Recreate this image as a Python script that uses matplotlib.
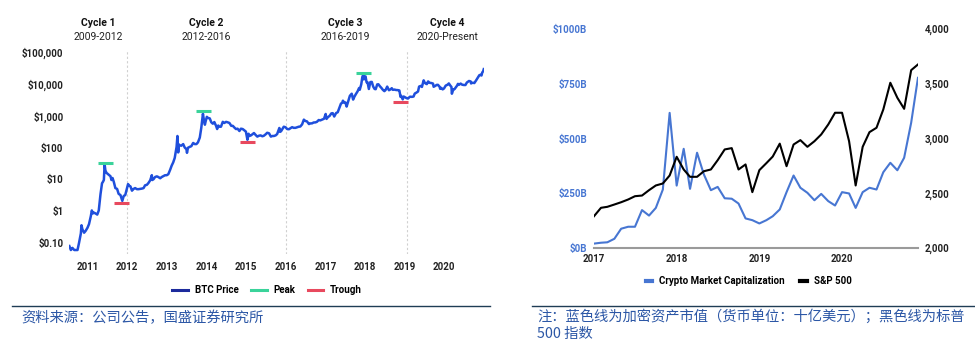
import pandas as pd
import matplotlib
matplotlib.use('Agg')
import matplotlib.pyplot as plt
import matplotlib.dates as mdates
from matplotlib.lines import Line2D
from matplotlib.ticker import FixedLocator, FuncFormatter

plt.rcParams['font.family'] = ['Roboto', 'DejaVu Sans']

# ---- left chart: BTC price cycles ----
btc_dates = [
    '2010-07-18', '2010-08-01', '2010-08-15', '2010-09-01', '2010-09-15', '2010-10-01', '2010-10-15',
    '2010-11-01', '2010-11-07', '2010-11-15', '2010-12-01', '2010-12-15',
    '2011-01-01', '2011-01-15', '2011-02-01', '2011-02-10', '2011-02-20', '2011-03-01', '2011-03-15',
    '2011-04-01', '2011-04-15', '2011-05-01', '2011-05-15', '2011-05-25', '2011-06-01', '2011-06-08',
    '2011-06-15', '2011-06-25', '2011-07-05', '2011-07-20', '2011-08-01', '2011-08-10', '2011-08-20',
    '2011-09-01', '2011-09-15', '2011-10-01', '2011-10-15', '2011-11-01', '2011-11-18', '2011-12-01',
    '2011-12-15',
    '2012-01-01', '2012-01-10', '2012-01-20', '2012-02-01', '2012-02-15', '2012-03-01', '2012-03-15',
    '2012-04-01', '2012-04-15', '2012-05-01', '2012-05-15', '2012-06-01', '2012-06-15', '2012-07-01',
    '2012-07-15', '2012-08-01', '2012-08-16', '2012-08-20', '2012-09-01', '2012-09-15', '2012-10-01',
    '2012-10-15', '2012-11-01', '2012-11-15', '2012-12-01', '2012-12-15',
    '2013-01-01', '2013-01-15', '2013-02-01', '2013-02-15', '2013-03-01', '2013-03-15', '2013-04-01',
    '2013-04-09', '2013-04-16', '2013-04-22', '2013-05-01', '2013-05-15', '2013-06-01', '2013-06-15',
    '2013-07-01', '2013-07-06', '2013-07-15', '2013-08-01', '2013-08-15', '2013-09-01', '2013-09-15',
    '2013-10-01', '2013-10-15', '2013-11-01', '2013-11-15', '2013-11-30', '2013-12-07', '2013-12-18',
    '2013-12-25',
    '2014-01-05', '2014-01-15', '2014-02-01', '2014-02-15', '2014-03-01', '2014-03-15', '2014-04-01',
    '2014-04-10', '2014-04-20', '2014-05-01', '2014-05-15', '2014-06-01', '2014-06-15', '2014-07-01',
    '2014-07-15', '2014-08-01', '2014-08-18', '2014-09-01', '2014-09-20', '2014-10-01', '2014-10-15',
    '2014-11-01', '2014-11-15', '2014-12-01', '2014-12-15', '2014-12-31',
    '2015-01-14', '2015-01-25', '2015-02-01', '2015-02-15', '2015-03-01', '2015-03-15', '2015-04-01',
    '2015-04-15', '2015-05-01', '2015-05-15', '2015-06-01', '2015-06-15', '2015-07-01', '2015-07-15',
    '2015-08-01', '2015-08-18', '2015-09-01', '2015-09-15', '2015-10-01', '2015-10-15', '2015-11-04',
    '2015-11-11', '2015-11-20', '2015-12-01', '2015-12-15',
    '2016-01-01', '2016-01-15', '2016-02-01', '2016-02-15', '2016-03-01', '2016-03-15', '2016-04-01',
    '2016-04-15', '2016-05-01', '2016-05-15', '2016-06-01', '2016-06-17', '2016-07-01', '2016-07-15',
    '2016-08-03', '2016-08-15', '2016-09-01', '2016-09-15', '2016-10-01', '2016-10-15', '2016-11-01',
    '2016-11-15', '2016-12-01', '2016-12-20',
    '2017-01-04', '2017-01-12', '2017-01-25', '2017-02-10', '2017-02-25', '2017-03-10', '2017-03-24',
    '2017-04-10', '2017-04-25', '2017-05-10', '2017-05-25', '2017-06-05', '2017-06-12', '2017-06-25',
    '2017-07-05', '2017-07-16', '2017-07-31', '2017-08-15', '2017-09-01', '2017-09-14', '2017-09-25',
    '2017-10-10', '2017-10-25', '2017-11-08', '2017-11-14', '2017-11-28', '2017-12-08', '2017-12-17',
    '2017-12-22', '2017-12-28',
    '2018-01-06', '2018-01-16', '2018-01-25', '2018-02-06', '2018-02-20', '2018-03-05', '2018-03-18',
    '2018-03-31', '2018-04-10', '2018-04-24', '2018-05-05', '2018-05-20', '2018-06-01', '2018-06-15',
    '2018-06-29', '2018-07-10', '2018-07-25', '2018-08-10', '2018-08-25', '2018-09-05', '2018-09-15',
    '2018-10-01', '2018-10-15', '2018-11-01', '2018-11-14', '2018-11-25', '2018-12-01', '2018-12-15',
    '2018-12-24',
    '2019-01-05', '2019-01-20', '2019-02-01', '2019-02-20', '2019-03-10', '2019-03-25', '2019-04-05',
    '2019-04-20', '2019-05-05', '2019-05-15', '2019-05-30', '2019-06-10', '2019-06-26', '2019-07-05',
    '2019-07-15', '2019-07-25', '2019-08-06', '2019-08-20', '2019-09-05', '2019-09-20', '2019-09-26',
    '2019-10-10', '2019-10-25', '2019-11-05', '2019-11-20', '2019-11-25', '2019-12-05', '2019-12-18',
    '2019-12-31',
    '2020-01-15', '2020-02-01', '2020-02-13', '2020-02-28', '2020-03-08', '2020-03-12', '2020-03-25',
    '2020-04-05', '2020-04-29', '2020-05-07', '2020-05-15', '2020-06-01', '2020-06-15', '2020-07-01',
    '2020-07-15', '2020-07-28', '2020-08-10', '2020-08-17', '2020-09-01', '2020-09-05', '2020-09-20',
    '2020-10-05', '2020-10-21', '2020-11-05', '2020-11-20', '2020-12-01', '2020-12-10', '2020-12-17',
    '2020-12-25', '2020-12-31',
]
btc_price = [
    0.08, 0.06, 0.07, 0.06, 0.06, 0.06, 0.10,
    0.20, 0.36, 0.27, 0.21, 0.24,
    0.30, 0.39, 0.70, 1.05, 0.85, 0.90, 0.85,
    0.78, 1.05, 3.4, 7.5, 8.5, 9.6, 29.6,
    19, 16, 15, 13.7, 12.5, 9.5, 11,
    8.2, 5.3, 5.0, 3.5, 3.2, 2.1, 3.0,
    3.2,
    5.3, 7.1, 6.3, 6.0, 4.4, 5.0, 5.3,
    4.9, 4.9, 5.0, 5.1, 5.3, 6.5, 6.7,
    7.6, 9.3, 13.5, 9.5, 10.1, 11.8, 12.4,
    11.8, 10.8, 11.8, 12.6, 13.4,
    13.5, 14.5, 20, 27, 34, 47, 104,
    230, 70, 125, 116, 114, 128, 100,
    88, 68, 98, 105, 110, 139, 128,
    128, 145, 205, 420, 1150, 800, 520,
    665,
    920, 850, 820, 620, 560, 630, 470,
    380, 490, 450, 450, 640, 590, 640,
    620, 590, 480, 480, 410, 380, 390,
    330, 390, 380, 350, 315,
    175, 270, 230, 240, 260, 285, 245,
    220, 235, 240, 225, 235, 260, 290,
    280, 220, 230, 230, 240, 265, 410,
    310, 325, 375, 450,
    430, 380, 375, 405, 435, 415, 415,
    430, 450, 455, 535, 750, 680, 665,
    545, 570, 575, 610, 615, 640, 730,
    710, 750, 800,
    1130, 790, 900, 990, 1180, 1200, 940,
    1210, 1280, 1760, 2400, 2520, 2960, 2540,
    2600, 1930, 2850, 4200, 4900, 3200, 3900,
    4800, 5800, 7400, 6500, 9700, 16500, 19500,
    13800, 15000,
    17200, 11200, 11200, 6900, 11400, 11500, 8200,
    6900, 6800, 9600, 9700, 8300, 7500, 6500,
    5900, 6400, 8200, 6300, 6700, 7300, 6500,
    6600, 6400, 6350, 6200, 3900, 4200, 3250,
    4000,
    3800, 3550, 3450, 3950, 3900, 4000, 4950,
    5300, 5750, 8200, 8600, 8000, 12900, 11000,
    10200, 9800, 11900, 10800, 10600, 10200, 8100,
    8600, 9300, 9300, 8100, 7000, 7500, 6700,
    7200,
    8800, 9400, 10300, 8700, 8000, 4900, 6700,
    6800, 8800, 10000, 9300, 10200, 9400, 9200,
    9200, 11000, 11900, 12300, 11900, 10300, 10900,
    10600, 12800, 15500, 18700, 19300, 18300, 22800,
    24700, 29000,
]

peak_dates = ['2011-06-13', '2013-12-02', '2017-12-16']
peak_levels = [33, 1400, 22000]
trough_dates = ['2011-11-12', '2015-01-18', '2018-11-25']
trough_levels = [1.8, 150, 2650]

year_ticks = ['2011', '2012', '2013', '2014', '2015', '2016', '2017', '2018', '2019', '2020']

cycle_names = ['Cycle 1', 'Cycle 2', 'Cycle 3', 'Cycle 4']
cycle_years = ['2009-2012', '2012-2016', '2016-2019', '2020-Present']
cycle_centers = ['2011-04-10', '2014-01-01', '2017-07-01', '2020-02-01']
cycle_bounds = ['2012-01-01', '2016-01-01', '2019-01-20']

# ---- right chart: crypto market cap vs S&P 500 (monthly 2017-2020) ----
months = pd.date_range('2017-01-01', periods=48, freq='MS')
crypto_cap = [
    20, 24, 26, 42, 88, 97, 97, 173, 148, 183, 267, 617,
    285, 453, 270, 435, 336, 264, 279, 227, 225, 203, 135, 127,
    112, 127, 145, 176, 255, 331, 275, 252, 218, 247, 214, 194,
    255, 249, 183, 255, 275, 267, 346, 389, 355, 412, 572, 777,
]
sp500 = [
    2290, 2367, 2376, 2397, 2418, 2443, 2473, 2479, 2528, 2571, 2589, 2662,
    2833, 2717, 2650, 2650, 2701, 2717, 2802, 2900, 2912, 2717, 2763, 2510,
    2711, 2775, 2835, 2953, 2747, 2945, 2985, 2924, 2975, 3037, 3128, 3235,
    3235, 2975, 2571, 2924, 3058, 3098, 3265, 3509, 3372, 3271, 3624, 3676,
]

btc_blue = '#1f4fdc'
peak_green = '#3ad39a'
trough_red = '#e8495e'
cap_blue = '#4776d2'
note_blue = '#2c57a6'

fig = plt.figure(figsize=(9.75, 3.58), dpi=100)

# left panel
ax = fig.add_axes([0.0708, 0.2905, 0.4256, 0.5712])
bx = pd.to_datetime(btc_dates)
ax.plot(bx, btc_price, color=btc_blue, lw=1.8, solid_joinstyle='round')
half = pd.Timedelta(days=70)
for d, v in zip(pd.to_datetime(peak_dates), peak_levels):
    ax.plot([d - half, d + half], [v, v], color=peak_green, lw=2.2, solid_capstyle='butt')
for d, v in zip(pd.to_datetime(trough_dates), trough_levels):
    ax.plot([d - half, d + half], [v, v], color=trough_red, lw=2.2, solid_capstyle='butt')
for d in pd.to_datetime(cycle_bounds):
    ax.axvline(d, color='#d0d0d0', lw=0.8, ls=(0, (2, 2)), zorder=0)

ax.set_yscale('log')
ax.set_ylim(0.045, 120000)
ax.set_xlim(pd.Timestamp('2010-07-15'), pd.Timestamp('2021-01-02'))
ytv = [0.1, 1, 10, 100, 1000, 10000, 100000]
ytl = ['$0.10', '$1', '$10', '$100', '$1,000', '$10,000', '$100,000']
ax.yaxis.set_major_locator(FixedLocator(ytv))
ax.yaxis.set_minor_locator(FixedLocator([]))
ax.set_yticklabels(ytl)
ax.set_xticks(pd.to_datetime(year_ticks))
ax.set_xticklabels(year_ticks)
ax.tick_params(axis='both', length=0, labelsize=7, colors='#222222')
ax.tick_params(axis='x', pad=6)
ax.tick_params(axis='y', pad=4)
for lab in ax.get_xticklabels() + ax.get_yticklabels():
    lab.set_fontweight('bold')
for s in ax.spines.values():
    s.set_visible(False)

trans = ax.get_xaxis_transform()
for name, yrs, c in zip(cycle_names, cycle_years, pd.to_datetime(cycle_centers)):
    ax.text(c, 1.13, name, transform=trans, ha='center', va='center',
            fontsize=7.5, fontweight='bold', color='#111111')
    ax.text(c, 1.062, yrs, transform=trans, ha='center', va='center',
            fontsize=7.5, color='#222222')

h1 = [Line2D([], [], color='#1c2a9c', lw=2.2),
      Line2D([], [], color=peak_green, lw=2.2),
      Line2D([], [], color=trough_red, lw=2.2)]
fig.legend(h1, ['BTC Price', 'Peak', 'Trough'], loc='center',
           bbox_to_anchor=(0.274, 0.19), ncol=3, frameon=False,
           handlelength=1.6, handletextpad=0.7, columnspacing=1.3,
           prop={'size': 7, 'weight': 'bold'})

# right panel
ax2 = fig.add_axes([0.6092, 0.3073, 0.3323, 0.6117])
ax2.plot(months, crypto_cap, color=cap_blue, lw=1.5)
ax2.set_ylim(0, 1000)
ax2.set_xlim(months[0], months[-1])
ax2.yaxis.set_major_locator(FixedLocator([0, 250, 500, 750, 1000]))
ax2.yaxis.set_major_formatter(FuncFormatter(lambda v, p: '$%dB' % v))
ax2.xaxis.set_major_locator(mdates.YearLocator())
ax2.xaxis.set_major_formatter(mdates.DateFormatter('%Y'))
ax2.tick_params(axis='both', length=0, labelsize=7)
ax2.tick_params(axis='y', colors=cap_blue, pad=5)
ax2.tick_params(axis='x', colors='#222222', pad=4)

ax3 = ax2.twinx()
ax3.plot(months, sp500, color='black', lw=1.5)
ax3.set_ylim(2000, 4000)
ax3.yaxis.set_major_locator(FixedLocator([2000, 2500, 3000, 3500, 4000]))
ax3.yaxis.set_major_formatter(FuncFormatter(lambda v, p: '{:,.0f}'.format(v)))
ax3.tick_params(axis='y', length=0, labelsize=7, colors='#222222', pad=5)

for a in (ax2, ax3):
    for s in a.spines.values():
        s.set_visible(False)
    for lab in a.get_xticklabels() + a.get_yticklabels():
        lab.set_fontweight('bold')
ax2.spines['bottom'].set_visible(True)
ax2.spines['bottom'].set_color('#9a9a9a')
ax2.spines['bottom'].set_linewidth(1.5)

h2 = [Line2D([], [], color=cap_blue, lw=3), Line2D([], [], color='black', lw=3)]
fig.legend(h2, ['Crypto Market Capitalization', 'S&P 500'], loc='center',
           bbox_to_anchor=(0.768, 0.215), ncol=2, frameon=False,
           handlelength=0.7, handletextpad=0.7, columnspacing=1.6,
           prop={'size': 7, 'weight': 'bold'})

# source notes
fig.add_artist(Line2D([0.012, 0.503], [0.145, 0.145], color='#1f3d55', lw=1))
fig.add_artist(Line2D([0.546, 1.0], [0.145, 0.145], color='#1f3d55', lw=1))
cjk = ['Noto Sans CJK SC', 'DejaVu Sans']
fig.text(0.022, 0.112, '资料来源：公司公告，国盛证券研究所', family=cjk,
         fontsize=10.3, color=note_blue, va='center', style='italic')
fig.text(0.551, 0.117, '注：蓝色线为加密资产市值（货币单位：十亿美元）；黑色线为标普', family=cjk,
         fontsize=10.3, color=note_blue, va='center', style='italic')
fig.text(0.551, 0.067, '500 指数', family=cjk,
         fontsize=10.3, color=note_blue, va='center', style='italic')

fig.savefig('out.png', dpi=100, facecolor='white')
